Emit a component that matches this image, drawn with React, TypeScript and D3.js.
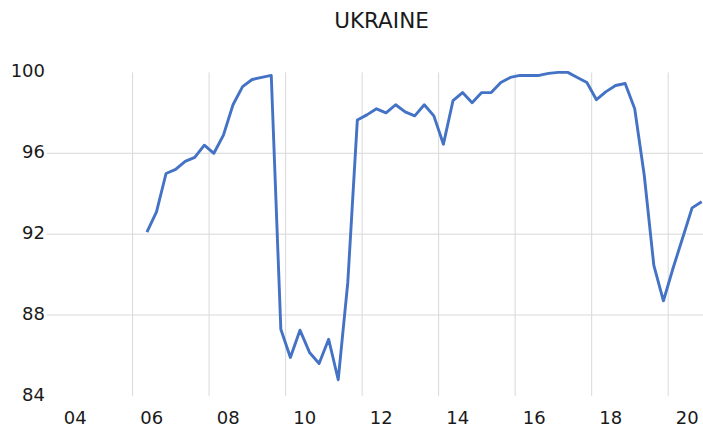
import React from "react";
import * as d3 from "d3";

// Quarterly series, first observation 2005 Q4
const startQuarter = 2005.75;
const ukraine: number[] = [
  92.1, 93.1, 95.0, 95.2, 95.6, 95.8, 96.4, 96.0, 96.9, 98.4, 99.3, 99.65, 99.75, 99.85,
  87.3, 85.9, 87.25, 86.15, 85.6, 86.8, 84.8, 89.6,
  97.65, 97.9, 98.2, 98.0, 98.4, 98.05, 97.85, 98.4, 97.85, 96.45,
  98.6, 99.0, 98.5, 99.0, 99.0, 99.5, 99.75, 99.85, 99.85, 99.85, 99.95, 100.0, 100.0,
  99.75, 99.5, 98.65, 99.05, 99.35, 99.45, 98.2, 94.9, 90.45, 88.7, 90.3, 91.8, 93.3, 93.6,
];
const yTicks: number[] = [84, 88, 92, 96, 100];
const yGrid: number[] = [88, 92, 96];
const xLabelYears: number[] = [2004, 2006, 2008, 2010, 2012, 2014, 2016, 2018, 2020];
const xGridYears: number[] = [2005.5, 2007.5, 2009.5, 2011.5, 2013.5, 2015.5, 2017.5, 2019.5];
const title = "UKRAINE";

const W = 703;
const H = 428;
const font = "'DejaVu Sans', sans-serif";

export default function App() {
  const x = d3.scaleLinear().domain([2003.25, 2020.41]).range([46.5, 703]);
  const y = d3.scaleLinear().domain([84, 100]).range([395.9, 72.4]);

  const pts = ukraine.map((v, i) => ({ t: startQuarter + i * 0.25 + 0.125, v }));
  const line = d3
    .line<{ t: number; v: number }>()
    .x((d) => x(d.t))
    .y((d) => y(d.v));

  return (
    <svg
      width={W}
      height={H}
      style={{ position: "absolute", left: 0, top: 0, background: "#fff" }}
      fontFamily={font}
    >
      <rect x={0} y={0} width={W} height={H} fill="#fff" />
      <text x={381.5} y={28.3} textAnchor="middle" fontSize={21.5} fill="#1a1a1a">
        {title}
      </text>
      {yGrid.map((g) => (
        <line key={"hg" + g} x1={46.5} x2={W} y1={y(g)} y2={y(g)} stroke="#d9d9d9" strokeWidth={1} />
      ))}
      {xGridYears.map((g) => (
        <line key={"vg" + g} x1={x(g)} x2={x(g)} y1={y(100)} y2={y(84)} stroke="#d9d9d9" strokeWidth={1} />
      ))}
      {yTicks.map((t) => (
        <text key={"yt" + t} x={45} y={y(t) + 4.7} textAnchor="end" fontSize={18} fill="#1a1a1a">
          {t}
        </text>
      ))}
      {xLabelYears.map((yr) => (
        <text key={"xl" + yr} x={x(yr)} y={423.5} textAnchor="middle" fontSize={18} fill="#1a1a1a">
          {String(yr % 100).padStart(2, "0")}
        </text>
      ))}
      <path
        d={line(pts) || ""}
        fill="none"
        stroke="#4472C4"
        strokeWidth={2.9}
        strokeLinejoin="round"
      />
    </svg>
  );
}
